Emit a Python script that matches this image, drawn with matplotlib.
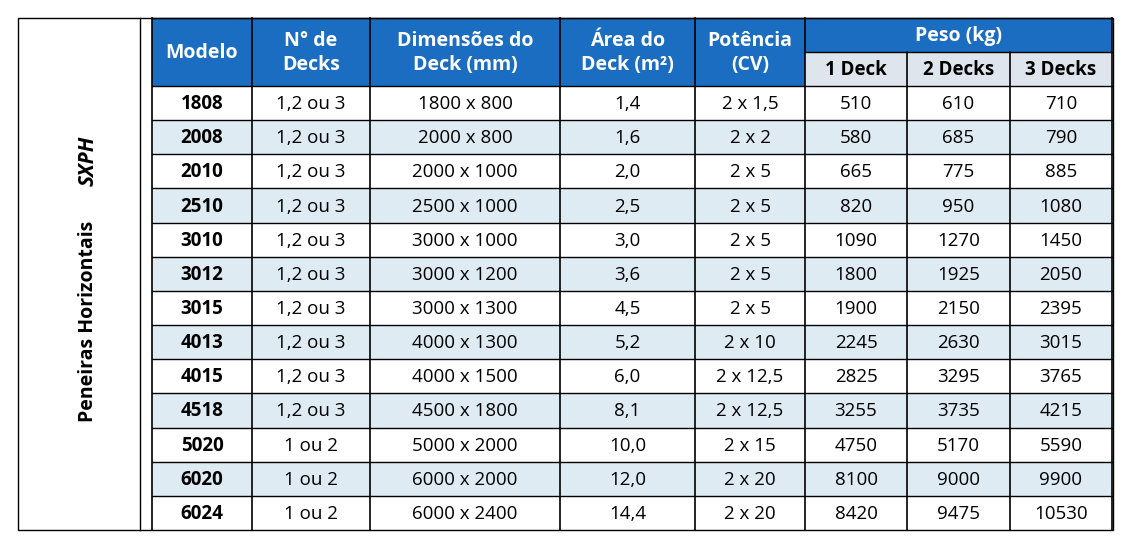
import matplotlib.pyplot as plt
from matplotlib.patches import Rectangle

modelos = ['1808', '2008', '2010', '2510', '3010', '3012', '3015', '4013', '4015', '4518', '5020', '6020', '6024']
decks = ['1,2 ou 3'] * 10 + ['1 ou 2'] * 3
dimensoes = ['1800 x 800', '2000 x 800', '2000 x 1000', '2500 x 1000', '3000 x 1000', '3000 x 1200',
             '3000 x 1300', '4000 x 1300', '4000 x 1500', '4500 x 1800', '5000 x 2000', '6000 x 2000', '6000 x 2400']
area = ['1,4', '1,6', '2,0', '2,5', '3,0', '3,6', '4,5', '5,2', '6,0', '8,1', '10,0', '12,0', '14,4']
potencia = ['2 x 1,5', '2 x 2', '2 x 5', '2 x 5', '2 x 5', '2 x 5', '2 x 5', '2 x 10', '2 x 12,5',
            '2 x 12,5', '2 x 15', '2 x 20', '2 x 20']
peso_1 = [510, 580, 665, 820, 1090, 1800, 1900, 2245, 2825, 3255, 4750, 8100, 8420]
peso_2 = [610, 685, 775, 950, 1270, 1925, 2150, 2630, 3295, 3735, 5170, 9000, 9475]
peso_3 = [710, 790, 885, 1080, 1450, 2050, 2395, 3015, 3765, 4215, 5590, 9900, 10530]

headers = ['Modelo', 'N° de\nDecks', 'Dimensões do\nDeck (mm)', 'Área do\nDeck (m²)', 'Potência\n(CV)']
sub_headers = ['1 Deck', '2 Decks', '3 Decks']

BLUE = '#1b6dc1'
LIGHT = '#deebf3'
SUB = '#dfe5ed'
FONT = 'Open Sans'

# column edges in pixels
xs = [152, 252, 370, 560, 695, 805, 907, 1010, 1112]
top, mid, head_bot, bottom = 18, 52, 86, 530
row_h = (bottom - head_bot) / len(modelos)

fig = plt.figure(figsize=(11.31, 5.51), dpi=100)
ax = fig.add_axes([0, 0, 1, 1])
ax.set_xlim(0, 1131)
ax.set_ylim(551, 0)
ax.axis('off')

# header
ax.add_patch(Rectangle((xs[0], top), xs[-1] - xs[0], head_bot - top, color=BLUE, lw=0))
ax.add_patch(Rectangle((xs[5], mid), xs[-1] - xs[5], head_bot - mid, color=SUB, lw=0))
for i, h in enumerate(headers):
    ax.text((xs[i] + xs[i + 1]) / 2, (top + head_bot) / 2 + 1, h, ha='center', va='center',
            color='white', fontsize=14, fontweight='bold', family=FONT, linespacing=1.3)
ax.text((xs[5] + xs[-1]) / 2, (top + mid) / 2 + 1, 'Peso (kg)', ha='center', va='center',
        color='white', fontsize=14, fontweight='bold', family=FONT)
for i, h in enumerate(sub_headers):
    ax.text((xs[5 + i] + xs[6 + i]) / 2, (mid + head_bot) / 2 + 1, h, ha='center', va='center',
            color='black', fontsize=13.5, fontweight='bold', family=FONT)

# data rows
cols = [modelos, decks, dimensoes, area, potencia, peso_1, peso_2, peso_3]
for r in range(len(modelos)):
    y0 = head_bot + r * row_h
    if r % 2 == 1:
        ax.add_patch(Rectangle((xs[0], y0), xs[-1] - xs[0], row_h, color=LIGHT, lw=0))
    for c, col in enumerate(cols):
        ax.text((xs[c] + xs[c + 1]) / 2, y0 + row_h / 2 + 1, str(col[r]), ha='center', va='center',
                fontsize=13.5, family=FONT, fontweight='bold' if c == 0 else 'normal')
    ax.plot([xs[0], xs[-1]], [y0, y0], color='black', lw=1)

# grid lines
ax.plot([xs[5], xs[-1]], [mid, mid], color='black', lw=1)
for i, x in enumerate(xs):
    y_start = mid if i in (6, 7) else top
    ax.plot([x, x], [y_start, bottom], color='black', lw=1.2)
ax.plot([xs[0], xs[-1]], [top, top], color='black', lw=1)

# outer frame and side label
ax.add_patch(Rectangle((18, 18), 1113 - 18, 530 - 18, fill=False, ec='black', lw=1))
ax.plot([140, 140], [18, 530], color='black', lw=1)
ax.text(88, 422, 'Peneiras Horizontais', rotation=90, ha='center', va='bottom',
        fontsize=14, family=FONT, fontweight='bold')
ax.text(88, 186, 'SXPH', rotation=90, ha='center', va='bottom',
        fontsize=15, family=FONT, fontweight='bold', style='italic')

fig.savefig('out.png', dpi=100)
